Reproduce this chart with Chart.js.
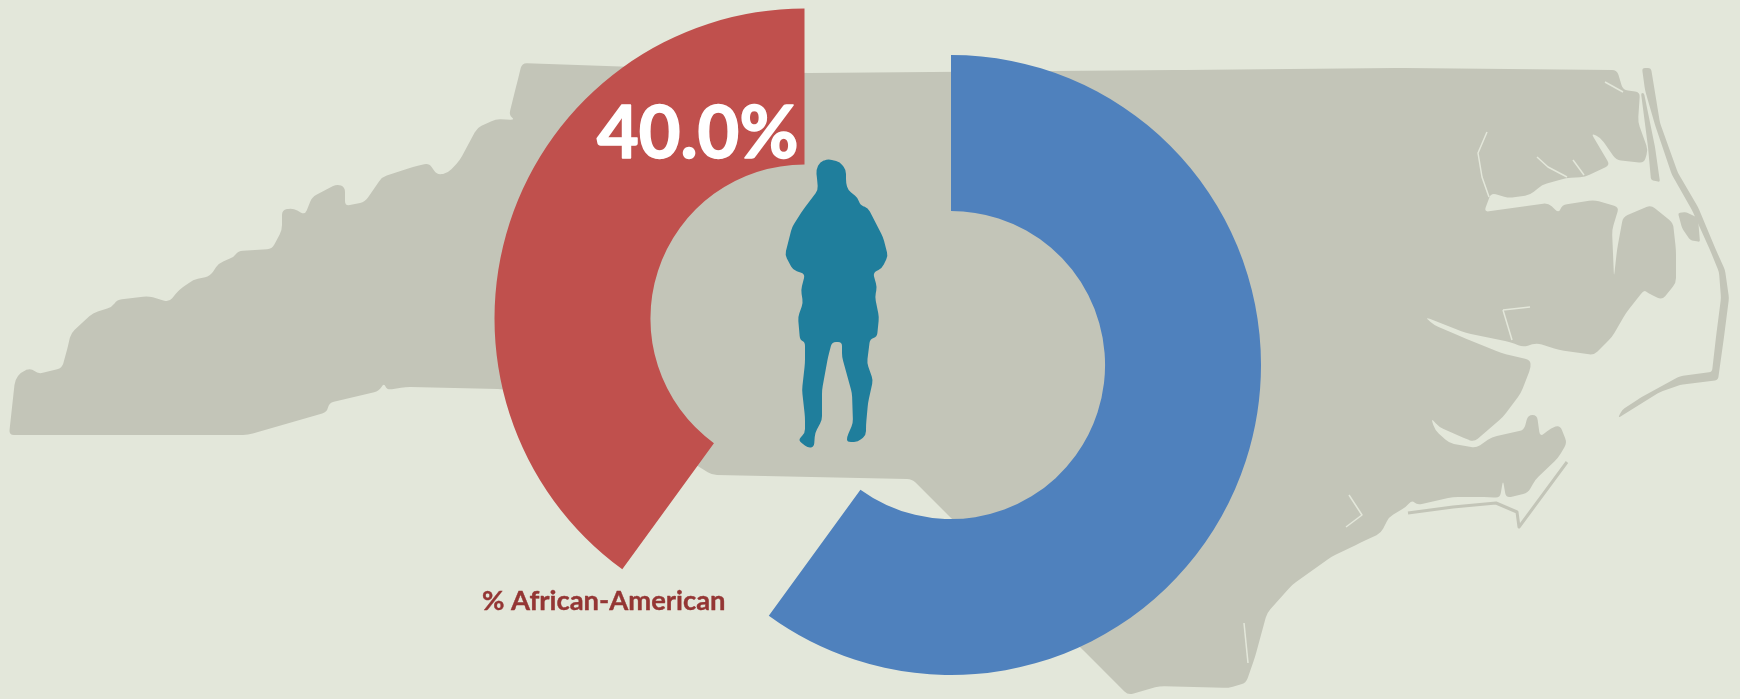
<!DOCTYPE html>
<html>
<head>
<meta charset="utf-8">
<title>% African-American</title>
<script src="https://cdn.jsdelivr.net/npm/chart.js@4"></script>
<style>
  html, body { margin: 0; padding: 0; background: #e3e7da; overflow: hidden; }
  canvas { display: block; position: absolute; left: 0; top: 0; }
</style>
</head>
<body>
<canvas id="mapLayer" width="1740" height="699"></canvas>
<canvas id="redLayer" width="1740" height="699"></canvas>
<script>
// chart values
const categories = ['Other', '% African-American'];
const shares = [60, 40];
const sliceColors = ['#4f81bd', '#c0504d'];
const valueLabel = '40.0%';
const seriesLabel = '% African-American';

// backdrop artwork: state outline, water inlets and the figure (pixel positions)
const stateOutline = [
  [9,435],[15,380],[21,372],[31,368],[38,374],[62,368],[67,350],[71,333],[93,313],[112,307],[117,300],[148,296],
  [169,302],[179,290],[193,280],[210,276],[219,263],[234,257],[238,251],[272,249],[282,230],[282,210],[293,208],
  [305,215],[312,197],[337,184],[345,187],[345,206],[365,202],[382,177],[413,167],[429,163],[437,175],[448,173],
  [460,160],[477,128],[496,119],[515,120],[509,115],[517,83],[522,63],[805,73],[1180,70],[1400,68],[1617,70],
  [1623,90],[1640,92],[1638,122],[1648,150],[1644,163],[1616,160],[1601,138],[1591,133],[1610,165],[1585,177],
  [1566,178],[1542,185],[1530,195],[1509,198],[1491,193],[1484,212],[1548,203],[1559,213],[1562,205],[1594,200],
  [1619,207],[1612,230],[1614,277],[1617,250],[1623,217],[1651,205],[1673,223],[1676,250],[1676,283],[1662,300],
  [1648,293],[1644,290],[1626,313],[1612,337],[1594,355],[1559,350],[1537,343],[1523,347],[1510,342],[1466,333],
  [1425,317],[1434,325],[1462,337],[1501,353],[1530,360],[1531,367],[1521,393],[1503,417],[1474,442],[1464,438],
  [1439,427],[1431,418],[1435,430],[1449,443],[1476,448],[1492,437],[1524,430],[1528,415],[1537,415],[1540,437],
  [1551,428],[1560,425],[1567,443],[1558,458],[1535,480],[1528,493],[1506,498],[1503,480],[1500,498],[1489,497],
  [1453,497],[1417,505],[1412,500],[1406,507],[1389,517],[1381,533],[1360,543],[1331,557],[1292,585],[1267,613],
  [1255,657],[1246,683],[1228,688],[1160,686],[1128,695],[1081,648],[912,479],[712,475],[640,430],[503,389],
  [406,387],[387,390],[384,383],[379,391],[329,403],[327,412],[248,435]
];
const outerBanks = [
  [1642,68],[1651,68],[1660,123],[1678,173],[1698,207],[1716,250],[1725,270],[1729,298],[1724,337],[1718,380],
  [1680,385],[1660,392],[1618,418],[1622,410],[1640,398],[1680,376],[1712,372],[1716,337],[1721,298],[1719,272],
  [1710,250],[1692,210],[1672,175],[1655,125],[1645,90]
];
const currituck = [[1641,93],[1648,147],[1651,180],[1660,182],[1655,147],[1644,93]];
const sandIsland = [[1678,213],[1686,212],[1698,218],[1700,242],[1690,240],[1682,228]];
const coreBanks = [[1408,513],[1453,507],[1496,503],[1517,512],[1519,527],[1567,462]];
const creeks = [
  [[1487,132],[1478,153],[1482,177],[1489,197]],
  [[1537,157],[1548,167],[1567,177]],
  [[1573,160],[1584,175]],
  [[1503,310],[1512,340]],
  [[1503,310],[1530,307]],
  [[1605,82],[1623,92]],
  [[1349,495],[1362,515],[1346,527]],
  [[1244,623],[1248,663]]
];
const figure = [
  [828,159],[840,162],[846,170],[846,183],[848,190],[858,198],[860,205],[868,208],[883,237],[888,256],[882,268],
  [873,273],[877,287],[875,297],[879,317],[877,337],[870,339],[867,363],[873,380],[868,403],[866,425],[866,435],
  [858,442],[847,442],[847,437],[853,423],[852,393],[842,357],[842,342],[832,342],[828,357],[822,390],[822,420],
  [815,433],[814,447],[808,448],[798,440],[805,433],[805,417],[802,390],[805,363],[805,342],[800,340],[798,317],
  [803,303],[801,290],[805,274],[793,270],[785,255],[792,227],[803,210],[818,190],[817,178],[816,170],[820,162]
];

// closed shape with its corners cut back by at most r pixels
function fillShape(ctx, pts, color, r) {
    const toward = (p, q) => {
        const d = Math.hypot(q[0] - p[0], q[1] - p[1]) || 1;
        const t = Math.min(0.5, r / d);
        return [p[0] + (q[0] - p[0]) * t, p[1] + (q[1] - p[1]) * t];
    };
    const n = pts.length;
    ctx.beginPath();
    pts.forEach((p, i) => {
        const a = toward(p, pts[(i + n - 1) % n]);
        const b = toward(p, pts[(i + 1) % n]);
        if (i) ctx.lineTo(a[0], a[1]); else ctx.moveTo(a[0], a[1]);
        ctx.quadraticCurveTo(p[0], p[1], b[0], b[1]);
    });
    ctx.closePath();
    ctx.fillStyle = color;
    ctx.fill();
}

function strokeLine(ctx, pts, color, width) {
    ctx.beginPath();
    pts.forEach((p, i) => i ? ctx.lineTo(p[0], p[1]) : ctx.moveTo(p[0], p[1]));
    ctx.strokeStyle = color;
    ctx.lineWidth = width;
    ctx.lineJoin = 'round';
    ctx.stroke();
}

const backdrop = {
    id: 'backdrop',
    beforeDraw(chart) {
        const ctx = chart.ctx;
        const land = '#c3c5b8';
        ctx.save();
        fillShape(ctx, stateOutline, land, 5);
        fillShape(ctx, outerBanks, land, 3);
        fillShape(ctx, currituck, land, 2);
        fillShape(ctx, sandIsland, land, 2);
        strokeLine(ctx, coreBanks, land, 3);
        creeks.forEach(c => strokeLine(ctx, c, '#e3e7da', 1.5));
        fillShape(ctx, figure, '#1f7e9c', 4);
        ctx.restore();
    }
};

const captions = {
    id: 'captions',
    afterDraw(chart) {
        const ctx = chart.ctx;
        ctx.save();
        ctx.textAlign = 'left';
        ctx.textBaseline = 'alphabetic';
        ctx.lineJoin = 'round';
        // Lato is the nearest installed face, a thin outline brings it up to the original weight
        ctx.fillStyle = '#ffffff';
        ctx.strokeStyle = '#ffffff';
        ctx.lineWidth = 1.6;
        ctx.font = 'bold 72px Lato';
        ctx.fillText(valueLabel, 597, 158);
        ctx.strokeText(valueLabel, 597, 158);
        ctx.fillStyle = '#943634';
        ctx.strokeStyle = '#943634';
        ctx.lineWidth = 0.4;
        ctx.font = 'bold 27.4px Lato';
        ctx.fillText(seriesLabel, 482, 610);
        ctx.strokeText(seriesLabel, 482, 610);
        ctx.restore();
    }
};

// each slice pulled apart: one chart per slice, sharing the same shares
function ringOptions(padding) {
    return {
        responsive: false,
        animation: false,
        radius: 310,
        cutout: '49.7%',
        layout: { padding: padding },
        events: [],
        plugins: {
            legend: { display: false },
            tooltip: { enabled: false }
        }
    };
}

new Chart(document.getElementById('mapLayer').getContext('2d'), {
    type: 'doughnut',
    data: {
        labels: categories,
        datasets: [{
            data: shares,
            backgroundColor: [sliceColors[0], 'transparent'],
            borderWidth: 0,
            clip: false
        }]
    },
    options: ringOptions({ left: 162, top: 31 }),
    plugins: [backdrop]
});

new Chart(document.getElementById('redLayer').getContext('2d'), {
    type: 'doughnut',
    data: {
        labels: categories,
        datasets: [{
            data: shares,
            backgroundColor: ['transparent', sliceColors[1]],
            borderWidth: 0,
            clip: false
        }]
    },
    options: ringOptions({ right: 131, bottom: 62 }),
    plugins: [captions]
});
</script>
</body>
</html>
